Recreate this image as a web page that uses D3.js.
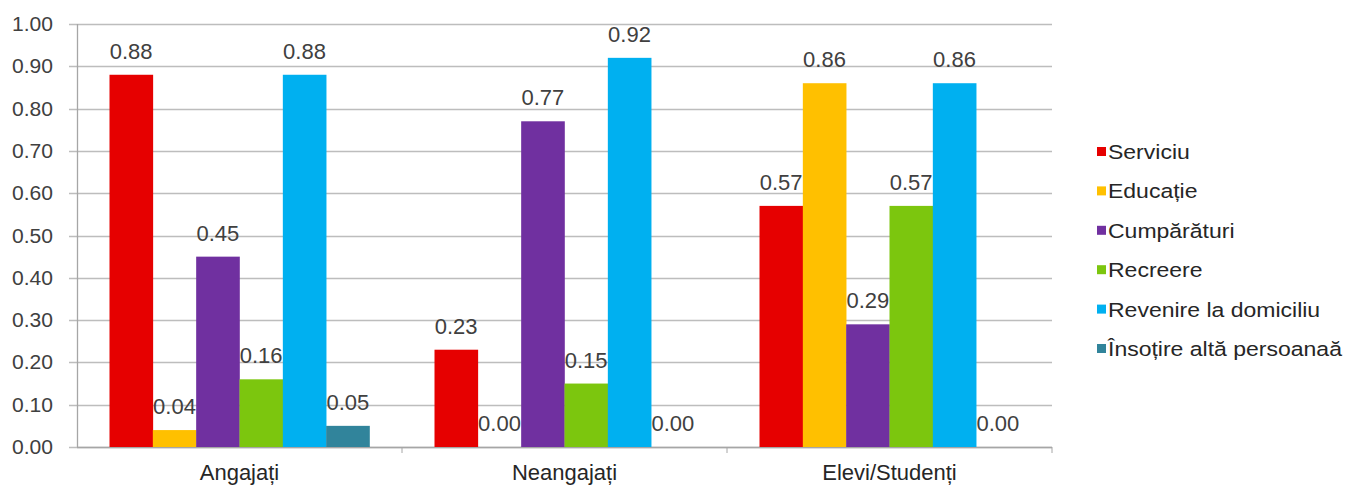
<!DOCTYPE html>
<html>
<head>
<meta charset="utf-8">
<script src="https://cdn.jsdelivr.net/npm/d3@7"></script>
<style>
  body { margin: 0; background: #fff; }
  svg { display: block; font-family: "Liberation Sans", Arial, sans-serif; }
</style>
</head>
<body>
<svg id="chart" width="1346" height="486"></svg>
<script>
"use strict";

var categories = ["Angajați", "Neangajați", "Elevi/Studenți"];
var seriesNames = ["Serviciu", "Educație", "Cumpărături", "Recreere", "Revenire la domiciliu", "Însoțire altă persoanaă"];
var seriesColors = ["#E60000", "#FFC000", "#7030A0", "#7CC60E", "#00B0F0", "#31849B"];
// valori pe categorie, in ordinea seriilor
var serviciu = [0.88, 0.23, 0.57];
var educatie = [0.04, 0.00, 0.86];
var cumparaturi = [0.45, 0.77, 0.29];
var recreere = [0.16, 0.15, 0.57];
var revenire = [0.88, 0.92, 0.86];
var insotire = [0.05, 0.00, 0.00];
var yTicks = [0, 0.1, 0.2, 0.3, 0.4, 0.5, 0.6, 0.7, 0.8, 0.9, 1.0];

var allSeries = [serviciu, educatie, cumparaturi, recreere, revenire, insotire];

var margin = { left: 77, top: 24, right: 294, bottom: 39 };
var width = 1346 - margin.left - margin.right;
var height = 486 - margin.top - margin.bottom;

var svg = d3.select("#chart");
var chart = svg.append("g")
    .attr("transform", `translate(${margin.left}, ${margin.top})`);

var yScale = d3.scaleLinear()
    .domain([0, 1])
    .range([height, 0]);

var x0 = d3.scaleBand()
    .domain(categories)
    .range([0, width])
    .paddingInner(0)
    .paddingOuter(0);

var x1 = d3.scaleBand()
    .domain(seriesNames)
    .range([0, x0.bandwidth()])
    .paddingOuter(0.75)
    .paddingInner(0);

// grila
chart.append("g")
    .selectAll("line")
    .data(yTicks)
    .join("line")
    .attr("x1", -8)
    .attr("x2", width)
    .attr("y1", (d) => Math.round(yScale(d)) + 0.5)
    .attr("y2", (d) => Math.round(yScale(d)) + 0.5)
    .attr("stroke", "#BDBDBD")
    .attr("stroke-width", 1.3);

// axa y
chart.append("line")
    .attr("x1", 0.5).attr("x2", 0.5)
    .attr("y1", 0).attr("y2", height)
    .attr("stroke", "#A6A6A6")
    .attr("stroke-width", 1.3);

chart.append("g")
    .selectAll("text")
    .data(yTicks)
    .join("text")
    .attr("transform", (d) => `translate(-24, ${yScale(d)}) scale(1.08, 1)`)
    .attr("dy", "0.36em")
    .attr("text-anchor", "end")
    .attr("fill", "#404040")
    .attr("font-size", 19.5)
    .text((d) => d3.format(".2f")(d));

// axa x
var xAxis = chart.append("g");
xAxis.append("line")
    .attr("x1", 0).attr("x2", width)
    .attr("y1", height + 0.5).attr("y2", height + 0.5)
    .attr("stroke", "#A6A6A6")
    .attr("stroke-width", 1.3);
xAxis.selectAll("line.tick")
    .data(categories)
    .join("line")
    .attr("class", "tick")
    .attr("x1", (d) => x0(d) + x0.bandwidth())
    .attr("x2", (d) => x0(d) + x0.bandwidth())
    .attr("y1", height)
    .attr("y2", height + 6)
    .attr("stroke", "#A6A6A6");
xAxis.selectAll("text")
    .data(categories)
    .join("text")
    .attr("x", (d) => x0(d) + x0.bandwidth() / 2)
    .attr("y", height + 33)
    .attr("text-anchor", "middle")
    .attr("fill", "#262626")
    .attr("font-size", 22)
    .text((d) => d);

// bare
var groups = chart.append("g")
    .selectAll("g")
    .data(categories)
    .join("g")
    .attr("transform", (d) => `translate(${x0(d)}, 0)`);

var barData = (c, ci) => seriesNames.map((s, si) => ({ s: s, color: seriesColors[si], v: allSeries[si][ci] }));

groups.selectAll("rect")
    .data(barData)
    .join("rect")
    .attr("x", (d) => x1(d.s))
    .attr("width", x1.bandwidth() + 0.3)
    .attr("y", (d) => yScale(d.v))
    .attr("height", (d) => height - yScale(d.v))
    .attr("fill", (d) => d.color);

groups.selectAll("text")
    .data(barData)
    .join("text")
    .attr("x", (d) => x1(d.s) + x1.bandwidth() / 2)
    .attr("y", (d) => yScale(d.v) - 16)
    .attr("text-anchor", "middle")
    .attr("fill", "#404040")
    .attr("font-size", 22)
    .text((d) => d3.format(".2f")(d.v));

// legenda
var legend = svg.append("g")
    .attr("transform", "translate(1097, 152)");
var items = legend.selectAll("g")
    .data(seriesNames)
    .join("g")
    .attr("transform", (d, i) => `translate(0, ${i * 39.4})`);
items.append("rect")
    .attr("x", 0).attr("y", -5)
    .attr("width", 9).attr("height", 9)
    .attr("fill", (d, i) => seriesColors[i]);
items.append("text")
    .attr("transform", "translate(11, 0) scale(1.18, 1)")
    .attr("dy", "0.36em")
    .attr("fill", "#262626")
    .attr("font-size", 19.5)
    .text((d) => d);
</script>
</body>
</html>
